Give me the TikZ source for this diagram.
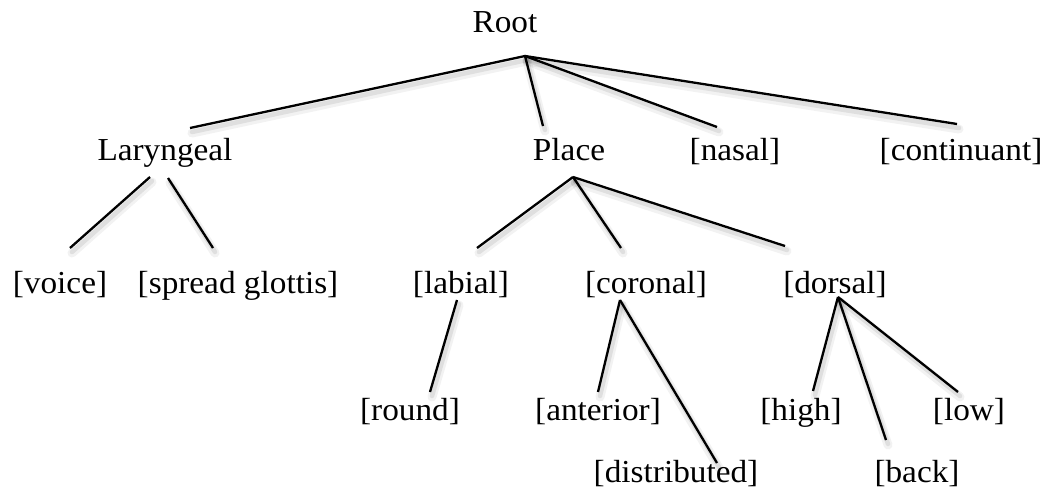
\documentclass[tikz,border=0pt]{standalone}
\usepackage{fontspec}
\setmainfont{Liberation Serif}[FakeStretch=1.04]
\begin{document}
\begin{tikzpicture}[x=1pt,y=-1pt,
  lbl/.style={anchor=base,inner sep=0pt,font=\fontsize{32}{36}\selectfont},
  edge/.style={line width=2.3pt,black},
  shA/.style={line width=9pt,black,opacity=0.05,line cap=round,transform canvas={shift={(2pt,-5pt)}}},
  shB/.style={line width=4.5pt,black,opacity=0.08,line cap=round,transform canvas={shift={(2pt,-4pt)}}}]
\newcommand\conn[2]{\draw[shA] (#1) -- (#2); \draw[shB] (#1) -- (#2); \draw[edge] (#1) -- (#2);}
\fill[white] (0,0) rectangle (1047,489);
\path[use as bounding box] (0,0) rectangle (1047,489);
% nodes
\node[lbl] (root) at (505,33) {Root};
\node[lbl] (lar) at (165,161) {Laryngeal};
\node[lbl] (place) at (569,161) {Place};
\node[lbl] (nasal) at (735,161) {[nasal]};
\node[lbl] (cont) at (961,161) {[continuant]};
\node[lbl] (voice) at (60,293) {[voice]};
\node[lbl] (sg) at (238,293) {[spread glottis]};
\node[lbl] (lab) at (461,293) {[labial]};
\node[lbl] (cor) at (646,293) {[coronal]};
\node[lbl] (dor) at (835,293) {[dorsal]};
\node[lbl] (round) at (410,420) {[round]};
\node[lbl] (ant) at (598,420) {[anterior]};
\node[lbl] (high) at (801,420) {[high]};
\node[lbl] (low) at (969,420) {[low]};
\node[lbl] (dist) at (676,482) {[distributed]};
\node[lbl] (back) at (917,482) {[back]};
% connector points
\coordinate (rootB) at (525,56);
\coordinate (larT) at (190,128);
\coordinate (placeT) at (543,126);
\coordinate (nasalT) at (717,127);
\coordinate (contT) at (957,124);
\coordinate (larBL) at (150,177);
\coordinate (larBR) at (168,178);
\coordinate (voiceT) at (70,248);
\coordinate (sgT) at (213,248);
\coordinate (placeB) at (573,177);
\coordinate (labT) at (477,248);
\coordinate (corT) at (621,248);
\coordinate (dorT) at (785,246);
\coordinate (labB) at (457,300);
\coordinate (roundT) at (430,392);
\coordinate (corB) at (620,300);
\coordinate (antT) at (598,392);
\coordinate (distT) at (717,463);
\coordinate (dorB) at (838,297);
\coordinate (highT) at (813,391);
\coordinate (backT) at (886,440);
\coordinate (lowT) at (958,392);
% connectors
\conn{rootB}{larT}
\conn{rootB}{placeT}
\conn{rootB}{nasalT}
\conn{rootB}{contT}
\conn{larBL}{voiceT}
\conn{larBR}{sgT}
\conn{placeB}{labT}
\conn{placeB}{corT}
\conn{placeB}{dorT}
\conn{labB}{roundT}
\conn{corB}{antT}
\conn{corB}{distT}
\conn{dorB}{highT}
\conn{dorB}{backT}
\conn{dorB}{lowT}
\end{tikzpicture}
\end{document}
